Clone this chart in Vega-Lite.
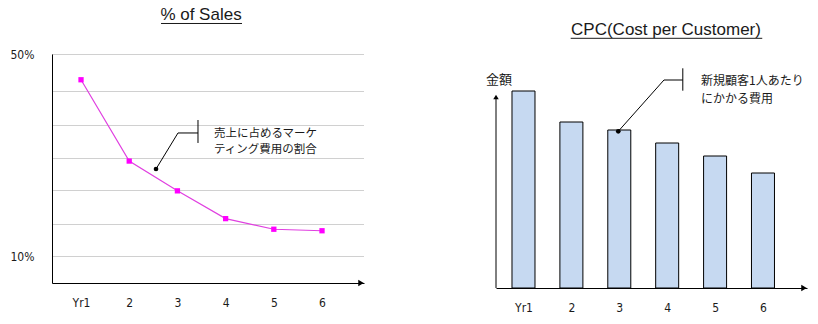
{
  "$schema": "https://vega.github.io/schema/vega-lite/v6.json",
  "padding": {"left": 10, "top": 6, "right": 4, "bottom": 4},
  "background": "white",
  "bounds": "flush",
  "spacing": 132,
  "config": {
    "font": "DejaVu Sans Condensed, DejaVu Sans",
    "view": {"stroke": null},
    "axis": {
      "labelFont": "DejaVu Sans Condensed, DejaVu Sans",
      "labelFontSize": 12,
      "labelColor": "#1a1a1a",
      "domainColor": "#000000",
      "domainWidth": 1,
      "ticks": false,
      "tickSize": 0,
      "title": null
    }
  },
  "datasets": {
    "sales": [
      {"year": 1, "pct": 44.9},
      {"year": 2, "pct": 28.8},
      {"year": 3, "pct": 22.9},
      {"year": 4, "pct": 17.4},
      {"year": 5, "pct": 15.3},
      {"year": 6, "pct": 15.0}
    ],
    "cpc": [
      {"year": 1, "cost": 197},
      {"year": 2, "cost": 166},
      {"year": 3, "cost": 158},
      {"year": 4, "cost": 145},
      {"year": 5, "cost": 132},
      {"year": 6, "cost": 115}
    ]
  },
  "hconcat": [
    {
      "width": 312,
      "height": 229,
      "title": {
        "text": "% of Sales",
        "font": "Liberation Sans",
        "fontSize": 17,
        "fontWeight": "normal",
        "color": "#1a1a1a",
        "anchor": "middle",
        "frame": "group",
        "offset": -1.5,
        "dx": -7
      },
      "layer": [
        {
          "data": {"name": "sales"},
          "mark": {"type": "line", "color": "#E040E0", "strokeWidth": 1.2, "interpolate": "linear"},
          "encoding": {
            "x": {
              "field": "year", "type": "quantitative",
              "scale": {"domain": [0.398, 6.871], "nice": false, "zero": false, "padding": 0},
              "axis": {
                "values": [1, 2, 3, 4, 5, 6],
                "tickCount": 20,
                "format": "d",
                "labelExpr": "datum.value == 1 ? 'Yr1' : datum.label",
                "grid": false,
                "labelPadding": 14,
                "labelFlush": false
              }
            },
            "y": {
              "field": "pct", "type": "quantitative",
              "scale": {"domain": [4.654, 50], "nice": false, "zero": false, "padding": 0},
              "axis": {
                "values": [10, 16.337, 23.07, 29.406, 35.941, 42.673, 50],
                "tickCount": 20,
                "labelExpr": "datum.value == 10 ? '10%' : (datum.value == 50 ? '50%' : '')",
                "grid": true,
                "gridColor": "#a0a0a0",
                "gridDash": [1, 1],
                "labelPadding": 18,
                "labelFlush": false
              }
            }
          }
        },
        {
          "data": {"name": "sales"},
          "mark": {"type": "point", "shape": "square", "filled": true, "size": 28, "color": "#FF00FF", "opacity": 1},
          "encoding": {
            "x": {"field": "year", "type": "quantitative"},
            "y": {"field": "pct", "type": "quantitative"}
          }
        },
        {
          "data": {"values": [{}]},
          "mark": {"type": "point", "shape": "triangle-right", "filled": true, "size": 40, "color": "#000000", "opacity": 1, "clip": false},
          "encoding": {"x": {"datum": 6.809}, "y": {"datum": 4.654}}
        },
        {
          "data": {"values": [{}]},
          "mark": {"type": "rule", "color": "#1a1a1a", "strokeWidth": 1, "clip": false},
          "encoding": {"x": {"datum": 2.66}, "x2": {"datum": 4.34}, "y": {"datum": 56.04}}
        },
        {
          "data": {"values": [{}]},
          "mark": {"type": "rule", "color": "#000000", "strokeWidth": 1},
          "encoding": {"x": {"datum": 2.556}, "y": {"datum": 27.23}, "x2": {"datum": 3.012}, "y2": {"datum": 34.36}}
        },
        {
          "data": {"values": [{}]},
          "mark": {"type": "rule", "color": "#000000", "strokeWidth": 1},
          "encoding": {"x": {"datum": 3.012}, "y": {"datum": 34.36}, "x2": {"datum": 3.427}}
        },
        {
          "data": {"values": [{}]},
          "mark": {"type": "rule", "color": "#000000", "strokeWidth": 1},
          "encoding": {"x": {"datum": 3.427}, "y": {"datum": 36.93}, "y2": {"datum": 32.38}}
        },
        {
          "data": {"values": [{}]},
          "mark": {"type": "point", "shape": "circle", "filled": true, "size": 22, "color": "#000000", "opacity": 1},
          "encoding": {"x": {"datum": 2.556}, "y": {"datum": 27.23}}
        },
        {
          "data": {"values": [{}]},
          "mark": {"type": "text", "font": "Noto Sans CJK JP", "fontSize": 11.5, "align": "left", "baseline": "middle", "color": "#1a1a1a", "text": "売上に占めるマーケ"},
          "encoding": {"x": {"datum": 3.759}, "y": {"datum": 34.16}}
        },
        {
          "data": {"values": [{}]},
          "mark": {"type": "text", "font": "Noto Sans CJK JP", "fontSize": 11.5, "align": "left", "baseline": "middle", "color": "#1a1a1a", "text": "ティング費用の割合"},
          "encoding": {"x": {"datum": 3.759}, "y": {"datum": 30.99}}
        }
      ]
    },
    {
      "width": 311,
      "height": 234,
      "title": {
        "text": "CPC(Cost per Customer)",
        "font": "Liberation Sans",
        "fontSize": 17,
        "fontWeight": "normal",
        "color": "#1a1a1a",
        "anchor": "middle",
        "frame": "group",
        "offset": -1.5,
        "dx": 14.5
      },
      "layer": [
        {
          "data": {"name": "cpc"},
          "mark": {"type": "bar", "size": 23, "fill": "#C6D9F1", "stroke": "#000000", "strokeWidth": 1},
          "encoding": {
            "x": {
              "field": "year", "type": "quantitative",
              "scale": {"domain": [0.426, 6.919], "nice": false, "zero": false, "padding": 0},
              "axis": {
                "values": [1, 2, 3, 4, 5, 6],
                "tickCount": 20,
                "format": "d",
                "labelExpr": "datum.value == 1 ? 'Yr1' : datum.label",
                "grid": false,
                "labelPadding": 14,
                "labelDx": 4,
                "labelFlush": false
              }
            },
            "y": {
              "field": "cost", "type": "quantitative",
              "scale": {"domain": [0, 234], "nice": false, "padding": 0},
              "axis": null
            }
          }
        },
        {
          "data": {"values": [{}]},
          "mark": {"type": "rule", "color": "#000000", "strokeWidth": 1},
          "encoding": {"x": {"datum": 0.426}, "y": {"datum": 0}, "y2": {"datum": 190}}
        },
        {
          "data": {"values": [{}]},
          "mark": {"type": "point", "shape": "triangle-up", "filled": true, "size": 30, "color": "#000000", "opacity": 1, "clip": false},
          "encoding": {"x": {"datum": 0.426}, "y": {"datum": 191}}
        },
        {
          "data": {"values": [{}]},
          "mark": {"type": "point", "shape": "triangle-right", "filled": true, "size": 40, "color": "#000000", "opacity": 1, "clip": false},
          "encoding": {"x": {"datum": 6.856}, "y": {"datum": 0}}
        },
        {
          "data": {"values": [{}]},
          "mark": {"type": "text", "font": "Noto Sans CJK JP", "fontSize": 13, "align": "center", "baseline": "middle", "color": "#1a1a1a", "text": "金額", "clip": false},
          "encoding": {"x": {"datum": 0.489}, "y": {"datum": 208}}
        },
        {
          "data": {"values": [{}]},
          "mark": {"type": "rule", "color": "#1a1a1a", "strokeWidth": 1, "clip": false},
          "encoding": {"x": {"datum": 1.985}, "x2": {"datum": 5.985}, "y": {"datum": 249.7}}
        },
        {
          "data": {"values": [{}]},
          "mark": {"type": "rule", "color": "#000000", "strokeWidth": 1},
          "encoding": {"x": {"datum": 2.979}, "y": {"datum": 156.7}, "x2": {"datum": 3.933}, "y2": {"datum": 208}}
        },
        {
          "data": {"values": [{}]},
          "mark": {"type": "rule", "color": "#000000", "strokeWidth": 1},
          "encoding": {"x": {"datum": 3.933}, "y": {"datum": 208}, "x2": {"datum": 4.326}}
        },
        {
          "data": {"values": [{}]},
          "mark": {"type": "rule", "color": "#000000", "strokeWidth": 1},
          "encoding": {"x": {"datum": 4.326}, "y": {"datum": 219.7}, "y2": {"datum": 197.3}}
        },
        {
          "data": {"values": [{}]},
          "mark": {"type": "point", "shape": "circle", "filled": true, "size": 22, "color": "#000000", "opacity": 1},
          "encoding": {"x": {"datum": 2.979}, "y": {"datum": 156.7}}
        },
        {
          "data": {"values": [{}]},
          "mark": {"type": "text", "font": "Noto Sans CJK JP", "fontSize": 12, "align": "left", "baseline": "middle", "color": "#1a1a1a", "text": "新規顧客1人あたり", "clip": false},
          "encoding": {"x": {"datum": 4.706}, "y": {"datum": 207.5}}
        },
        {
          "data": {"values": [{}]},
          "mark": {"type": "text", "font": "Noto Sans CJK JP", "fontSize": 12, "align": "left", "baseline": "middle", "color": "#1a1a1a", "text": "にかかる費用", "clip": false},
          "encoding": {"x": {"datum": 4.706}, "y": {"datum": 189}}
        }
      ]
    }
  ]
}
